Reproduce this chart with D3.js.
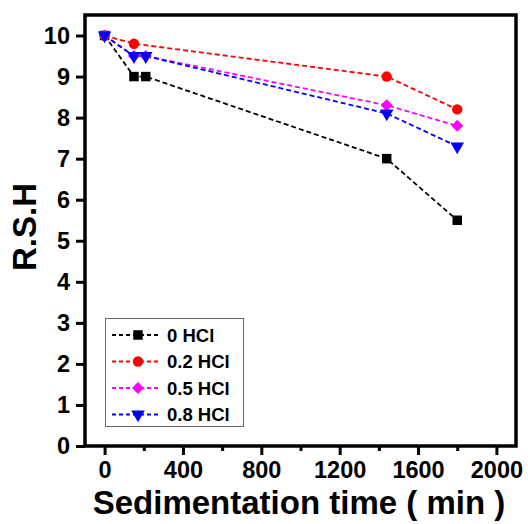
<!DOCTYPE html>
<html>
<head>
<meta charset="utf-8">
<script src="https://cdn.jsdelivr.net/npm/d3@7"></script>
<style>
  body { margin: 0; background: #fff; }
  svg text { font-family: "Liberation Sans", Arial, sans-serif; font-weight: bold; }
</style>
</head>
<body>
<svg id="chart" width="528" height="524"></svg>
<script>
// data
var seriesNames = ["0 HCl", "0.2 HCl", "0.5 HCl", "0.8 HCl"];
var seriesColors = ["#000000", "#ff0000", "#ff00ff", "#0000ff"];
var time0 = [0, 150, 210, 1440, 1800];
var rsh0  = [10, 9, 9, 7, 5.5];
var time02 = [0, 150, 1440, 1800];
var rsh02  = [10, 9.8, 9, 8.2];
var time05 = [0, 150, 210, 1440, 1800];
var rsh05  = [10, 9.5, 9.5, 8.3, 7.8];
var time08 = [0, 150, 210, 1440, 1800];
var rsh08  = [10, 9.5, 9.5, 8.1, 7.3];
var xTicks = [0, 400, 800, 1200, 1600, 2000];
var xMinor = [200, 600, 1000, 1400, 1800];
var yTicks = [0, 1, 2, 3, 4, 5, 6, 7, 8, 9, 10];

var series = [
  {name: seriesNames[0], color: seriesColors[0], x: time0,  y: rsh0,  sym: "square"},
  {name: seriesNames[1], color: seriesColors[1], x: time02, y: rsh02, sym: "circle"},
  {name: seriesNames[2], color: seriesColors[2], x: time05, y: rsh05, sym: "diamond"},
  {name: seriesNames[3], color: seriesColors[3], x: time08, y: rsh08, sym: "triangle"}
];

var svg = d3.select("#chart");
// plot frame (window.top is reserved, so use other names)
var plotL = 85, plotR = 516, plotT = 15, plotB = 446;

var xScale = d3.scaleLinear().domain([-100, 2100]).range([plotL, plotR]);
var yScale = d3.scaleLinear().domain([0, 10.5]).range([plotB, plotT]);

// marker shapes
function symbolPath(kind) {
  if (kind == "square") return d3.symbol(d3.symbolSquare, 90)();
  if (kind == "circle") return d3.symbol(d3.symbolCircle, 85)();
  if (kind == "diamond") return d3.symbol(d3.symbolSquare, 72)();
  return d3.symbol(d3.symbolTriangle, 80)();
}
function symbolRotate(kind) {
  if (kind == "diamond") return 45;
  if (kind == "triangle") return 180;
  return 0;
}

// x axis, major + minor ticks
var xAxis = svg.append("g")
  .attr("transform", `translate(0, ${plotB})`)
  .call(d3.axisBottom(xScale).tickValues(xTicks).tickSize(9).tickPadding(6).tickFormat(d3.format("d")));
var xMinorAxis = svg.append("g")
  .attr("transform", `translate(0, ${plotB})`)
  .call(d3.axisBottom(xScale).tickValues(xMinor).tickSize(5).tickFormat(""));

var yAxis = svg.append("g")
  .attr("transform", `translate(${plotL}, 0)`)
  .call(d3.axisLeft(yScale).tickValues(yTicks).tickSize(9).tickPadding(6).tickFormat(d3.format("d")));

svg.selectAll(".domain").remove();
svg.selectAll(".tick line").attr("stroke", "#000").attr("stroke-width", 3);
svg.selectAll(".tick text").attr("font-size", 23.5).attr("fill", "#000")
  .style("font-family", '"Liberation Sans", Arial, sans-serif').style("font-weight", "bold");

// frame
svg.append("rect")
  .attr("x", plotL).attr("y", plotT)
  .attr("width", plotR - plotL).attr("height", plotB - plotT)
  .attr("fill", "none").attr("stroke", "#000").attr("stroke-width", 3.5);

// lines and markers
var line = d3.line().x(d => xScale(d[0])).y(d => yScale(d[1]));
series.forEach(function(s) {
  var pts = s.x.map((t, i) => [t, s.y[i]]);
  svg.append("path")
    .datum(pts)
    .attr("d", line)
    .attr("fill", "none")
    .attr("stroke", s.color)
    .attr("stroke-width", 1.8)
    .attr("stroke-dasharray", "5,3");
});
series.forEach(function(s) {
  var pts = s.x.map((t, i) => [t, s.y[i]]);
  svg.selectAll(null)
    .data(pts)
    .enter()
    .append("path")
    .attr("d", symbolPath(s.sym))
    .attr("transform", d => `translate(${xScale(d[0])}, ${yScale(d[1])}) rotate(${symbolRotate(s.sym)})`)
    .attr("fill", s.color);
});

// legend
var legend = svg.append("g");
legend.append("rect")
  .attr("x", 105.5).attr("y", 318.5)
  .attr("width", 138).attr("height", 108)
  .attr("fill", "#fff").attr("stroke", "#666").attr("stroke-width", 1);
series.forEach(function(s, i) {
  var ly = 335 + i * 26.5;
  legend.append("line")
    .attr("x1", 112).attr("x2", 158)
    .attr("y1", ly).attr("y2", ly)
    .attr("stroke", s.color).attr("stroke-width", 1.8)
    .attr("stroke-dasharray", "4,3");
  legend.append("path")
    .attr("d", symbolPath(s.sym))
    .attr("transform", `translate(138, ${ly}) rotate(${symbolRotate(s.sym)})`)
    .attr("fill", s.color);
  legend.append("text")
    .attr("x", 167).attr("y", ly + 6.5)
    .attr("font-size", 18.5)
    .attr("fill", "#000")
    .text(s.name);
});

// axis titles
svg.append("text")
  .attr("x", 299).attr("y", 514)
  .attr("text-anchor", "middle")
  .attr("font-size", 33)
  .attr("fill", "#000")
  .text("Sedimentation time ( min )");

svg.append("text")
  .attr("transform", "translate(36, 227) rotate(-90)")
  .attr("text-anchor", "middle")
  .attr("font-size", 33)
  .attr("fill", "#000")
  .text("R.S.H");
</script>
</body>
</html>
